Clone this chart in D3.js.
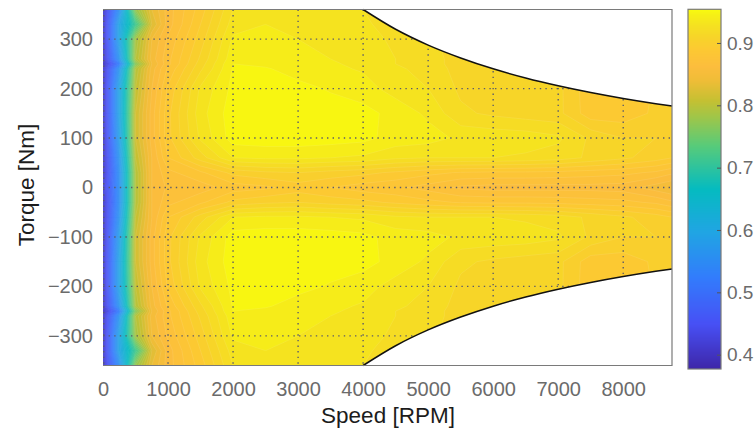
<!DOCTYPE html>
<html>
<head>
<meta charset="utf-8">
<script src="https://cdn.jsdelivr.net/npm/d3@7"></script>
<style>
  html, body { margin: 0; padding: 0; background: #fff; }
  svg { display: block; font-family: "Liberation Sans", Arial, Helvetica, sans-serif; }
</style>
</head>
<body>
<svg id="chart" width="756" height="430"></svg>
<script>
// Motor efficiency map: speed grid (columns), torque grid (rows, top to bottom)
const speedRPM = [0, 250, 500, 750, 1000, 1500, 2000, 2500, 3000, 3500, 4000,
                  4500, 5000, 5500, 6000, 6500, 7000, 7500, 8000, 8500, 8750];
const torqueNm = [360, 330, 300, 260, 250, 240, 200, 150, 100, 60, 30, 0,
                  -30, -60, -100, -150, -200, -240, -250, -260, -300, -330, -360];

// Efficiency at each (torque row, speed column)
const efficiency = [
  [0.41, 0.56, 0.78, 0.84, 0.865, 0.895, 0.930, 0.935, 0.935, 0.932, 0.930, 0.925, 0.921, 0.915, 0.915, 0.915, 0.915, 0.893, 0.893, 0.901, 0.910],
  [0.41, 0.60, 0.72, 0.83, 0.865, 0.900, 0.935, 0.940, 0.938, 0.935, 0.932, 0.925, 0.921, 0.915, 0.915, 0.915, 0.915, 0.893, 0.893, 0.901, 0.910],
  [0.41, 0.60, 0.79, 0.85, 0.872, 0.905, 0.942, 0.943, 0.940, 0.937, 0.934, 0.928, 0.922, 0.915, 0.915, 0.915, 0.915, 0.893, 0.893, 0.901, 0.910],
  [0.41, 0.57, 0.80, 0.855, 0.877, 0.912, 0.947, 0.946, 0.943, 0.940, 0.937, 0.930, 0.925, 0.915, 0.915, 0.915, 0.915, 0.893, 0.893, 0.901, 0.910],
  [0.40, 0.53, 0.77, 0.85, 0.877, 0.915, 0.950, 0.948, 0.944, 0.941, 0.938, 0.930, 0.925, 0.915, 0.915, 0.915, 0.915, 0.893, 0.893, 0.901, 0.910],
  [0.41, 0.57, 0.80, 0.855, 0.882, 0.918, 0.951, 0.951, 0.946, 0.942, 0.939, 0.932, 0.926, 0.916, 0.915, 0.915, 0.915, 0.893, 0.893, 0.901, 0.910],
  [0.41, 0.60, 0.81, 0.86, 0.892, 0.932, 0.953, 0.954, 0.953, 0.949, 0.944, 0.936, 0.930, 0.918, 0.915, 0.915, 0.913, 0.893, 0.893, 0.901, 0.910],
  [0.41, 0.60, 0.82, 0.865, 0.897, 0.936, 0.956, 0.957, 0.957, 0.955, 0.954, 0.946, 0.938, 0.922, 0.918, 0.915, 0.913, 0.894, 0.894, 0.902, 0.910],
  [0.41, 0.59, 0.82, 0.865, 0.897, 0.932, 0.955, 0.956, 0.956, 0.955, 0.953, 0.946, 0.944, 0.938, 0.937, 0.936, 0.932, 0.918, 0.910, 0.910, 0.908],
  [0.41, 0.57, 0.81, 0.86, 0.890, 0.915, 0.940, 0.942, 0.942, 0.940, 0.938, 0.932, 0.930, 0.930, 0.930, 0.928, 0.925, 0.918, 0.912, 0.905, 0.900],
  [0.41, 0.56, 0.80, 0.86, 0.877, 0.888, 0.903, 0.908, 0.910, 0.906, 0.903, 0.898, 0.893, 0.889, 0.888, 0.888, 0.887, 0.885, 0.883, 0.878, 0.872],
  [0.42, 0.56, 0.80, 0.86, 0.872, 0.875, 0.885, 0.888, 0.895, 0.890, 0.885, 0.882, 0.876, 0.868, 0.866, 0.866, 0.866, 0.866, 0.865, 0.855, 0.850],
  [0.41, 0.56, 0.80, 0.86, 0.877, 0.888, 0.903, 0.908, 0.910, 0.906, 0.903, 0.898, 0.893, 0.889, 0.888, 0.888, 0.887, 0.885, 0.883, 0.878, 0.872],
  [0.41, 0.57, 0.81, 0.86, 0.890, 0.915, 0.940, 0.942, 0.942, 0.940, 0.938, 0.932, 0.930, 0.930, 0.930, 0.928, 0.925, 0.918, 0.912, 0.905, 0.900],
  [0.41, 0.59, 0.82, 0.865, 0.897, 0.932, 0.955, 0.956, 0.956, 0.955, 0.953, 0.946, 0.944, 0.938, 0.937, 0.936, 0.932, 0.918, 0.910, 0.910, 0.908],
  [0.41, 0.60, 0.82, 0.865, 0.897, 0.936, 0.956, 0.957, 0.957, 0.955, 0.954, 0.946, 0.938, 0.922, 0.918, 0.915, 0.913, 0.894, 0.894, 0.902, 0.910],
  [0.41, 0.60, 0.81, 0.86, 0.892, 0.932, 0.953, 0.954, 0.953, 0.949, 0.944, 0.936, 0.930, 0.918, 0.915, 0.915, 0.913, 0.893, 0.893, 0.901, 0.910],
  [0.41, 0.57, 0.80, 0.855, 0.882, 0.918, 0.951, 0.951, 0.946, 0.942, 0.939, 0.932, 0.926, 0.916, 0.915, 0.915, 0.915, 0.893, 0.893, 0.901, 0.910],
  [0.40, 0.53, 0.77, 0.85, 0.877, 0.915, 0.950, 0.948, 0.944, 0.941, 0.938, 0.930, 0.925, 0.915, 0.915, 0.915, 0.915, 0.893, 0.893, 0.901, 0.910],
  [0.41, 0.57, 0.80, 0.855, 0.877, 0.912, 0.947, 0.946, 0.943, 0.940, 0.937, 0.930, 0.925, 0.915, 0.915, 0.915, 0.915, 0.893, 0.893, 0.901, 0.910],
  [0.41, 0.60, 0.79, 0.85, 0.872, 0.905, 0.942, 0.943, 0.940, 0.937, 0.934, 0.928, 0.922, 0.915, 0.915, 0.915, 0.915, 0.893, 0.893, 0.901, 0.910],
  [0.41, 0.60, 0.72, 0.83, 0.865, 0.900, 0.935, 0.940, 0.938, 0.935, 0.932, 0.925, 0.921, 0.915, 0.915, 0.915, 0.915, 0.893, 0.893, 0.901, 0.910],
  [0.41, 0.56, 0.78, 0.84, 0.865, 0.895, 0.930, 0.935, 0.935, 0.932, 0.930, 0.925, 0.921, 0.915, 0.915, 0.915, 0.915, 0.893, 0.893, 0.901, 0.910]
];

// Maximum torque envelope (positive side; mirrored for braking)
const envelopeSpeed  = [4000, 4500, 5000, 5500, 6000, 6500, 7000, 7500, 8000, 8500, 8750];
const envelopeTorque = [360, 320, 288, 262, 240, 221.5, 205.7, 192, 180, 169.4, 164.6];

const xTicks = [0, 1000, 2000, 3000, 4000, 5000, 6000, 7000, 8000];
const yTicks = [-300, -200, -100, 0, 100, 200, 300];
const cbTicks = [0.4, 0.5, 0.6, 0.7, 0.8, 0.9];
const levels = d3.range(38, 96).map(k => k / 100);

// Parula-style colormap stops
const cmapPos = [0, 0.125, 0.254, 0.381, 0.5, 0.62, 0.698, 0.746, 0.80, 0.84, 0.889, 0.921, 0.952, 0.984, 1];
const cmapCol = ["#3e26a8", "#4750f5", "#327cfc", "#20a5e3", "#05bbc0", "#57cb7a", "#9dc64a",
                 "#c5c032", "#eebd37", "#fcbd3d", "#fcc932", "#f7d429", "#f5e021", "#f6f016", "#f9fb0e"];

const svg = d3.select("#chart");
const plot = { left: 103, right: 672, top: 9.5, bottom: 365.5 };
const cbar = { left: 688, right: 721, top: 9.3, bottom: 369 };

const x = d3.scaleLinear().domain([0, 8750]).range([plot.left, plot.right]);
const y = d3.scaleLinear().domain([-360, 360]).range([plot.bottom, plot.top]);
const cScale = d3.scaleLinear().domain([0.377, 0.954]).range([cbar.bottom, cbar.top]);
const cmapT = d3.scaleLinear().domain(cmapPos).range(cmapCol).interpolate(d3.interpolateRgb).clamp(true);
const color = v => cmapT((v - 0.377) / (0.954 - 0.377));

// grid index -> physical value (piecewise linear over the non-uniform grid)
const nx = speedRPM.length, ny = torqueNm.length;
const idxToSpeed = d3.scaleLinear().domain(d3.range(nx)).range(speedRPM);
const idxToTorque = d3.scaleLinear().domain(d3.range(ny)).range(torqueNm);
const px = c => x(idxToSpeed(Math.max(0, Math.min(nx - 1, c - 0.5))));
const py = c => y(idxToTorque(Math.max(0, Math.min(ny - 1, c - 0.5))));

const defs = svg.append("defs");
defs.append("clipPath").attr("id", "plotClip")
  .append("rect").attr("x", plot.left).attr("y", plot.top)
  .attr("width", plot.right - plot.left).attr("height", plot.bottom - plot.top);

// filled contours
const flat = efficiency.flat();
const bands = d3.contours().size([nx, ny]).thresholds(levels)(flat);
const proj = d3.geoTransform({ point: function (a, b) { this.stream.point(px(a), py(b)); } });
const geo = d3.geoPath(proj);

const gMap = svg.append("g").attr("clip-path", "url(#plotClip)");
gMap.selectAll("path.band").data(bands).join("path")
  .attr("class", "band")
  .attr("d", geo)
  .attr("fill", d => color(d.value))
  .attr("stroke", "#ffffff")
  .attr("stroke-opacity", 0.16)
  .attr("stroke-width", 0.6);

// dotted grid
const gGrid = svg.append("g").attr("clip-path", "url(#plotClip)")
  .attr("stroke", "#5c5c6a").attr("stroke-width", 1.4)
  .attr("stroke-dasharray", "1.4,4.2").attr("fill", "none");
gGrid.selectAll("line.gx").data(xTicks).join("line")
  .attr("x1", d => x(d) + (d === 0 ? 0.7 : 0)).attr("x2", d => x(d) + (d === 0 ? 0.7 : 0))
  .attr("y1", plot.top).attr("y2", plot.bottom);
gGrid.selectAll("line.gy").data(yTicks).join("line")
  .attr("y1", d => y(d)).attr("y2", d => y(d))
  .attr("x1", plot.left).attr("x2", plot.right);

// region beyond the torque envelope
const envPts = envelopeSpeed.map((s, i) => [s, envelopeTorque[i]]);
const curve = d3.line().x(d => x(d[0])).y(d => y(d[1])).curve(d3.curveMonotoneX);
const upperCurve = curve(envPts);
const lowerCurve = curve(envPts.map(d => [d[0], -d[1]]));
svg.append("path")
  .attr("d", upperCurve + `L${x(8750)},${y(360)}Z`)
  .attr("fill", "#fff");
svg.append("path")
  .attr("d", lowerCurve + `L${x(8750)},${y(-360)}Z`)
  .attr("fill", "#fff");
svg.append("path").attr("d", upperCurve).attr("fill", "none").attr("stroke", "#111").attr("stroke-width", 1.5);
svg.append("path").attr("d", lowerCurve).attr("fill", "none").attr("stroke", "#111").attr("stroke-width", 1.5);

// frame
svg.append("path")
  .attr("d", `M${plot.left},${plot.top}H${plot.right}V${plot.bottom}H${plot.left}`)
  .attr("fill", "none").attr("stroke", "#7a7a7a").attr("stroke-width", 1.2);

// axes
const axX = svg.append("g").attr("transform", `translate(0,${plot.bottom})`)
  .call(d3.axisBottom(x).tickValues(xTicks).tickSize(0).tickPadding(16).tickFormat(d3.format("d")));
const axY = svg.append("g").attr("transform", `translate(${plot.left},0)`)
  .call(d3.axisLeft(y).tickValues(yTicks).tickSize(0).tickPadding(10));
[axX, axY].forEach(a => {
  a.select(".domain").remove();
  a.selectAll("text").attr("font-size", 20).attr("fill", "#6b6b6b")
    .attr("font-family", "'Liberation Sans', Arial, sans-serif");
});

svg.append("text").attr("x", 388).attr("y", 423).attr("text-anchor", "middle")
  .attr("font-size", 22.5).attr("fill", "#1c1c1c").text("Speed [RPM]");
svg.append("text").attr("transform", "translate(34,185) rotate(-90)").attr("text-anchor", "middle")
  .attr("font-size", 22.5).attr("fill", "#1c1c1c").text("Torque [Nm]");

// colorbar
const cbRows = d3.range(Math.floor(cbar.top), Math.ceil(cbar.bottom));
svg.append("g").selectAll("rect").data(cbRows).join("rect")
  .attr("x", cbar.left).attr("width", cbar.right - cbar.left)
  .attr("y", d => d).attr("height", 1.2)
  .attr("fill", d => color(cScale.invert(d + 0.5)))
  .attr("shape-rendering", "crispEdges");
svg.append("rect").attr("x", cbar.left).attr("y", cbar.top)
  .attr("width", cbar.right - cbar.left).attr("height", cbar.bottom - cbar.top)
  .attr("fill", "none").attr("stroke", "#7a7a7a").attr("stroke-width", 1.2);
const axC = svg.append("g").attr("transform", `translate(${cbar.right},0)`)
  .call(d3.axisRight(cScale).tickValues(cbTicks).tickSize(-4).tickPadding(6).tickFormat(d3.format(".1f")));
axC.select(".domain").remove();
axC.selectAll("line").attr("stroke", "#555");
axC.selectAll("text").attr("font-size", 19).attr("fill", "#6b6b6b")
  .attr("font-family", "'Liberation Sans', Arial, sans-serif");
</script>
</body>
</html>
